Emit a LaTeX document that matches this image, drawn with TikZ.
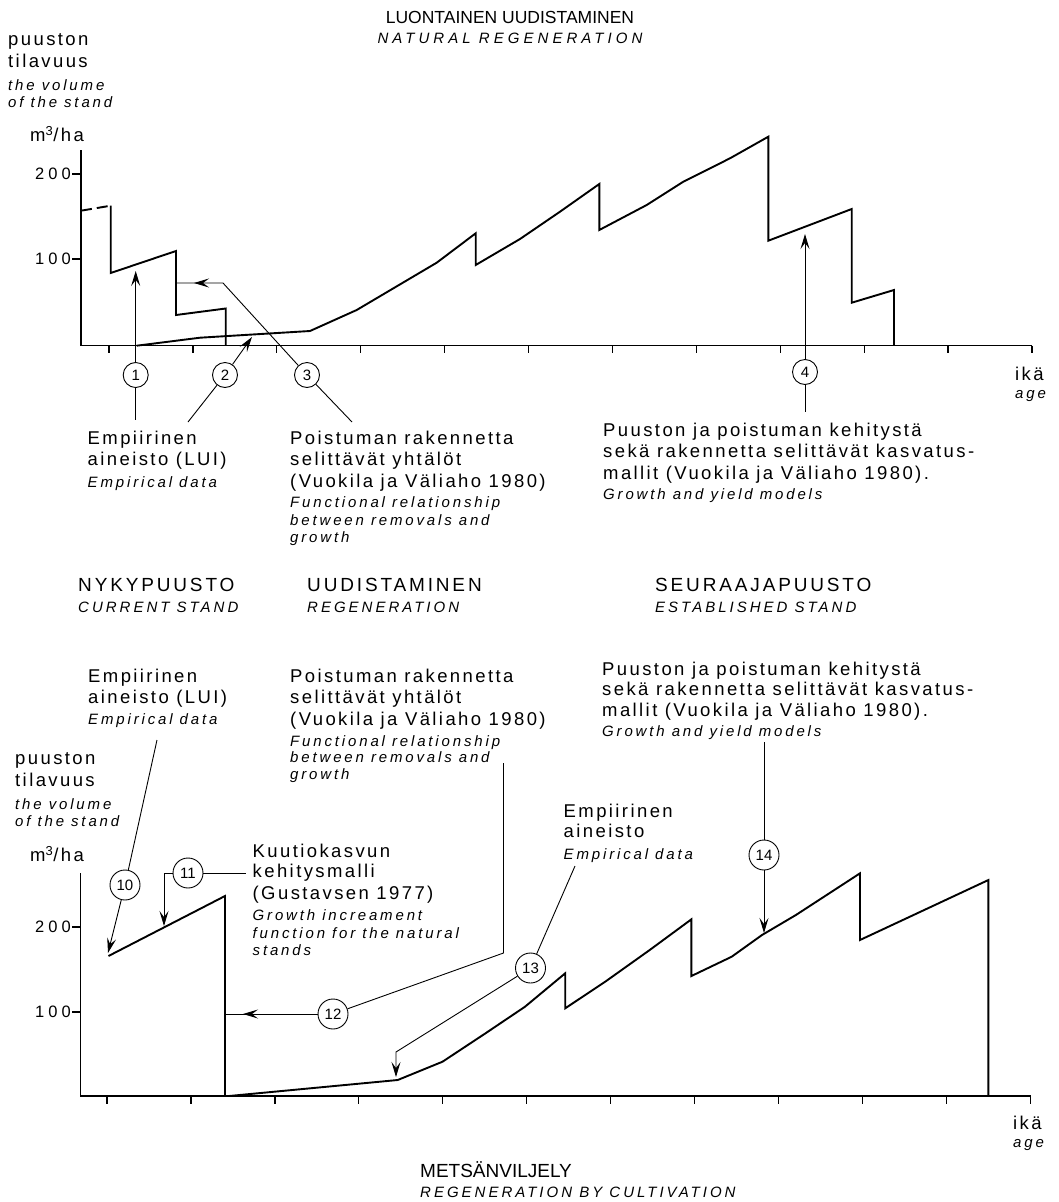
\documentclass[tikz,border=0pt]{standalone}
\usepackage{fontspec}
\setmainfont{Liberation Sans}
\newfontfamily\fiFam[LetterSpace=13]{Liberation Sans}
\newfontfamily\enFam[LetterSpace=19]{Liberation Sans}
\newfontfamily\headFam[LetterSpace=15]{Liberation Sans}
\newfontfamily\headEnFam[LetterSpace=20]{Liberation Sans}
\newfontfamily\ttlEnFam[LetterSpace=27]{Liberation Sans}
\newfontfamily\digFam[LetterSpace=25]{Liberation Sans}
\newcommand\fiFont{\fiFam\fontsize{18.5}{21.5}\selectfont}
\newcommand\enFont{\enFam\itshape\fontsize{15}{18}\selectfont}
\newcommand\headFont{\headFam\fontsize{19}{20.5}\selectfont}
\newcommand\headEnFont{\headEnFam\itshape\fontsize{15}{18}\selectfont}
\newcommand\ttlFont{\fontsize{17.5}{20.5}\selectfont}
\newcommand\ttlEnFont{\ttlEnFam\itshape\fontsize{15}{18}\selectfont}
\newcommand\digFont{\digFam\fontsize{16.5}{18}\selectfont}
\newcommand\numFont{\fontsize{15}{15}\selectfont}
\usetikzlibrary{arrows.meta,decorations.markings,positioning}
\tikzset{
  >={Stealth[length=15pt,width=9pt,inset=6pt]},
  volline/.style={line width=1.9pt},
  axisline/.style={line width=1.5pt},
  axtick/.style={line width=1.2pt},
  leader/.style={line width=0.9pt},
  numcirc/.style={circle,draw,line width=0.9pt,minimum size=25pt,inner sep=0pt,font=\numFont},
  numcirc2/.style={numcirc,minimum size=30pt},
  lbl/.style={align=left,anchor=north west,inner sep=0pt,font=\fiFont},
  headlbl/.style={align=left,anchor=north west,inner sep=0pt,font=\headFont},
  titlelbl/.style={headlbl,font=\ttlFont},
  midbarb/.style={postaction={decorate},decoration={markings,
    mark=at position -17pt with {\arrow{Stealth[length=15pt,width=9pt,inset=6pt]}}}},
}
\begin{document}
\begin{tikzpicture}[x=1pt,y=-1pt]
\useasboundingbox (0,0) rectangle (1059,1202);

% ---------- upper chart: natural regeneration
\node[titlelbl,anchor=north,align=center] (ttl1) at (510,10.7) {LUONTAINEN UUDISTAMINEN\\\ttlEnFont NATURAL REGENERATION};
\node[lbl] (ylab1) at (8,33.5) {puuston\\tilavuus\\[1.5pt]\enFont the volume\\[-4.5pt]\enFont of the stand};
\node[lbl,anchor=base west] (unit1) at (30,141.5) {m\textsuperscript{3}/ha};

\draw[axisline] (81,150) -- (81,345.7) -- (1032,345.7);
\foreach \x in {0,...,11} \draw[axtick] (109+83.9*\x,345.7) -- ++(0,7.5);
\draw[axtick] (72,174) -- (81,174);
\draw[axtick] (72,259) -- (81,259);
\node[anchor=east,inner sep=0pt,font=\digFont] (y200a) at (71,174) {200};
\node[anchor=east,inner sep=0pt,font=\digFont] (y100a) at (71,259) {100};

\draw[volline,dash pattern=on 11pt off 5pt] (81,210.7) -- (110.7,205.7);
\draw[volline] (110.7,205.7) -- (110.7,273) -- (176,251) -- (176,315) -- (225.7,308.5) -- (225.7,345.7);
\draw[volline] (136.7,345.7) -- (200,337.7) -- (310,331) -- (356.7,310) -- (436.7,262.7) -- (475.7,233.3)
  -- (475.7,265) -- (520,239) -- (560,211.7) -- (599.3,184) -- (599.3,230) -- (646.7,205) -- (683.3,181.7)
  -- (730,158.3) -- (768.3,136.7) -- (768.3,240.7) -- (851.7,209) -- (851.7,302.7) -- (894,290) -- (894,345.7);

\node[numcirc] (c1) at (135.7,375) {1};
\node[numcirc] (c2) at (225,375) {2};
\node[numcirc] (c3) at (307,375) {3};
\node[numcirc] (c4) at (805,372) {4};
\coordinate (a1) at (135.7,271);
\coordinate (e1) at (135.7,420);
\coordinate (a2) at (252,337);
\coordinate (e2) at (188,422);
\coordinate (k3) at (223,283);
\coordinate (a3) at (177,283);
\coordinate (e3) at (352,422);
\coordinate (a4) at (805,234);
\coordinate (e4) at (805,412);
\draw[leader,->] (c1) -- (a1);
\draw[leader] (c1) -- (e1);
\draw[leader,->] (c2) -- (a2);
\draw[leader] (c2) -- (e2);
\draw[leader,midbarb] (c3) -- (k3) -- (a3);
\draw[leader] (c3) -- (e3);
\draw[leader,->] (c4) -- (a4);
\draw[leader] (c4) -- (e4);

\node[lbl] (lab1) at (87.5,430.5) {Empiirinen\\aineisto (LUI)\\[0.5pt]\enFont Empirical data};
\node[lbl] (lab3) at (290,430.5) {Poistuman rakennetta\\selittävät yhtälöt\\(Vuokila ja Väliaho 1980)\\[-1pt]\enFont Functional relationship\\[-3.5pt]\enFont between removals and\\[-4.5pt]\enFont growth};
\node[lbl] (lab4) at (603,422.5) {Puuston ja poistuman kehitystä\\sekä rakennetta selittävät kasvatus-\\mallit (Vuokila ja Väliaho 1980).\\[-1.5pt]\enFont Growth and yield models};
\node[lbl] (age1) at (1015,366.5) {ikä\\[-3.5pt]\enFont age};

% ---------- lower chart: regeneration by cultivation
\node[headlbl] (hd1) at (78,578.2) {NYKYPUUSTO\\\headEnFont CURRENT STAND};
\node[headlbl] (hd2) at (307,578.2) {UUDISTAMINEN\\\headEnFont REGENERATION};
\node[headlbl] (hd3) at (655,578.2) {SEURAAJAPUUSTO\\\headEnFont ESTABLISHED STAND};

\node[lbl] (lab10) at (88,668.5) {Empiirinen\\aineisto (LUI)\\[-0.5pt]\enFont Empirical data};
\node[lbl] (lab12) at (290,668.5) {Poistuman rakennetta\\selittävät yhtälöt\\(Vuokila ja Väliaho 1980)\\[-0.5pt]\enFont Functional relationship\\[-5.5pt]\enFont between removals and\\[-4.5pt]\enFont growth};
\node[lbl] (lab14) at (602,661.5) {Puuston ja poistuman kehitystä\\[-1.5pt]sekä rakennetta selittävät kasvatus-\\[-0.5pt]mallit (Vuokila ja Väliaho 1980).\\[-1.5pt]\enFont Growth and yield models};
\node[lbl] (ylab2) at (15,752.5) {puuston\\tilavuus\\[1.5pt]\enFont the volume\\[-4.5pt]\enFont of the stand};
\node[lbl,anchor=base west] (unit2) at (30,861.5) {m\textsuperscript{3}/ha};
\node[lbl] (lab11) at (252.5,843.5) {Kuutiokasvun\\[-1.5pt]kehitysmalli\\[0.5pt](Gustavsen 1977)\\[-0.5pt]\enFont Growth increament\\[-3.5pt]\enFont function for the natural\\[-4.5pt]\enFont stands};
\node[lbl] (lab13) at (563.5,803.5) {Empiirinen\\[-1.5pt]aineisto\\[0.5pt]\enFont Empirical data};

\draw[axisline] (80.7,873) -- (80.7,1096) -- (1030.5,1096);
\foreach \x in {0,...,11} \draw[axtick] (107+83.95*\x,1096) -- ++(0,7.5);
\draw[axtick] (72,927) -- (80.7,927);
\draw[axtick] (72,1012) -- (80.7,1012);
\node[anchor=east,inner sep=0pt,font=\digFont] (y200b) at (71,927) {200};
\node[anchor=east,inner sep=0pt,font=\digFont] (y100b) at (71,1012) {100};

\draw[volline] (108.5,956) -- (225,896) -- (225,1096);
\draw[volline] (229,1096) -- (397.7,1080) -- (442.5,1061.7) -- (485.5,1033.3) -- (525,1006.7) -- (565.2,973.3)
  -- (565.2,1008.3) -- (605.2,981.7) -- (649.7,950) -- (691.4,919.3) -- (691.4,976) -- (731.7,956.7)
  -- (762,935) -- (795.9,915) -- (860,873.3) -- (860,940) -- (988.4,880) -- (988.4,1096);

\node[numcirc2] (c10) at (125,885) {10};
\node[numcirc2] (c11) at (188,873) {11};
\node[numcirc2] (c12) at (333,1014) {12};
\node[numcirc2] (c13) at (530.5,968) {13};
\node[numcirc2] (c14) at (764,855) {14};
\coordinate (e10) at (157,740);
\coordinate (a10) at (108,953);
\coordinate (k11) at (164,873);
\coordinate (a11) at (164,926);
\coordinate (e11) at (246,873);
\coordinate (a12) at (226,1014);
\coordinate (k12) at (503.5,953);
\coordinate (e12) at (503.5,763);
\coordinate (e13) at (575,866);
\coordinate (k13) at (396,1052);
\coordinate (a13) at (396,1077);
\coordinate (e14) at (764,742);
\coordinate (a14) at (764,933);
\draw[leader] (c10) -- (e10);
\draw[leader,->] (c10) -- (a10);
\draw[leader,->] (c11) -- (k11) -- (a11);
\draw[leader] (c11) -- (e11);
\draw[leader,midbarb] (c12) -- (a12);
\draw[leader] (c12) -- (k12) -- (e12);
\draw[leader] (c13) -- (e13);
\draw[leader,->] (c13) -- (k13) -- (a13);
\draw[leader] (e14) -- (c14);
\draw[leader,->] (c14) -- (a14);

\node[lbl] (age2) at (1013,1115.5) {ikä\\[-3.5pt]\enFont age};
\node[titlelbl,font=\fontsize{19}{20.5}\selectfont] (ttl2) at (420,1161.2) {METSÄNVILJELY\\\headEnFont REGENERATION BY CULTIVATION};
\end{tikzpicture}
\end{document}
